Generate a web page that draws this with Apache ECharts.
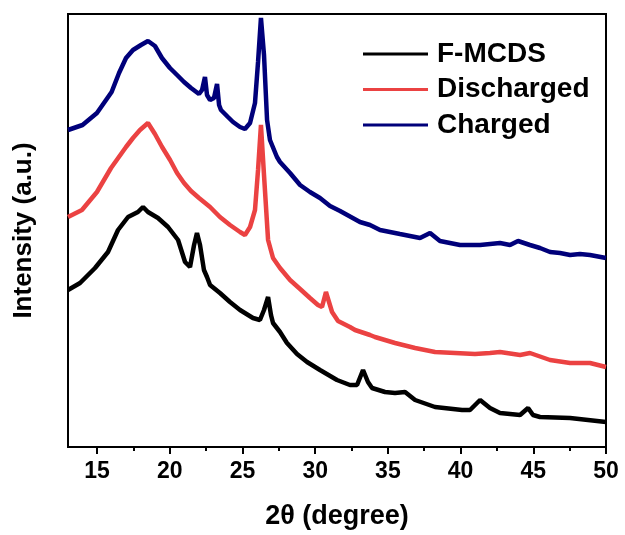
<!DOCTYPE html>
<html>
<head>
<meta charset="utf-8">
<script src="https://cdn.jsdelivr.net/npm/echarts@6/dist/echarts.min.js"></script>
<style>
html,body{margin:0;padding:0;background:#fff;}
#chart{width:625px;height:535px;}
</style>
</head>
<body>
<div id="chart"></div>
<script>
// ---- data (2θ in degrees, intensity in arbitrary units) ----
var seriesNames = ['F-MCDS', 'Discharged', 'Charged'];

var fmcdsX = [13.00,13.83,14.86,15.75,16.44,17.13,17.81,18.16,18.50,19.19,19.88,20.57,21.05,21.39,21.67,21.87,22.08,22.35,22.56,22.77,23.45,24.14,24.83,25.72,26.20,26.48,26.76,26.96,27.10,27.58,28.06,28.75,29.44,30.33,31.50,32.39,32.88,33.29,33.63,33.91,34.80,35.49,36.18,36.87,38.24,40.10,40.65,41.34,42.02,42.71,44.09,44.64,44.98,45.46,47.53,50.00];
var fmcdsY = [157,164,179,195,217,230,235,240,235,229,220,207,185,180,202,214,202,177,170,162,154,145,137,129,127,137,150,132,124,115,104,93,85,77,67,62,62,77,65,59,55,54,55,47,40,37,37,47,39,34,32,39,32,30,29,25];

var dischargedX = [13.00,13.96,14.99,15.96,16.99,17.47,17.95,18.50,18.98,19.47,20.02,20.50,20.98,21.46,22.01,22.77,23.45,24.14,24.83,25.17,25.52,25.86,26.07,26.27,26.48,26.76,27.10,27.58,28.27,28.96,29.64,30.19,30.47,30.74,31.16,31.57,32.39,32.74,33.77,34.11,35.49,36.87,38.24,39.62,40.99,42.02,42.71,44.09,44.77,46.15,47.53,48.90,50.00];
var dischargedY = [230,237,255,279,300,309,317,324,313,300,287,274,264,256,249,240,230,222,215,212,220,237,277,322,272,207,189,179,167,158,149,142,140,155,135,126,120,117,112,110,104,99,95,94,93,94,95,92,94,87,84,84,80];

var chargedX = [13.00,14.00,14.99,16.00,16.51,16.99,17.47,18.02,18.50,18.98,19.46,20.01,20.50,20.98,21.46,22.01,22.22,22.42,22.56,22.77,23.04,23.25,23.39,23.52,24.00,24.35,24.83,25.17,25.52,25.86,26.07,26.27,26.48,26.69,26.89,27.37,27.58,28.27,28.96,29.64,30.33,31.02,31.71,33.08,33.77,34.46,35.83,37.21,37.90,38.58,39.96,41.34,42.71,43.40,43.95,44.77,45.46,46.15,46.84,47.53,48.21,48.90,50.00];
var chargedY = [317,322,334,355,374,389,397,402,406,401,389,379,372,365,359,353,357,370,352,347,349,363,342,337,330,325,320,318,324,344,385,429,392,327,307,290,285,274,262,255,249,241,236,225,222,217,213,209,214,206,202,202,204,202,206,202,199,195,194,192,193,192,189];

var xMajorTicks = [15,20,25,30,35,40,45,50];
var xMinorTicks = [17.5,22.5,27.5,32.5,37.5,42.5,47.5];

function zip(xs, ys){ var out=[]; for(var i=0;i<xs.length;i++){ out.push([xs[i], ys[i]]); } return out; }

var FONT = '"Liberation Sans", Arial, sans-serif';
var colors = ['#000000', '#EB4242', '#00007A'];

var chart = echarts.init(document.getElementById('chart'), null, {renderer:'canvas'});
var option = {
  animation: false,
  backgroundColor: '#ffffff',
  grid: { left: 68, right: 19, top: 14, bottom: 88, show: true, borderColor: '#000', borderWidth: 2, backgroundColor: 'transparent' },
  legend: {
    orient: 'vertical', left: 363, top: 40, padding: 0,
    icon: 'rect', itemWidth: 65, itemHeight: 3, itemGap: 7.5,
    data: seriesNames,
    textStyle: { fontFamily: FONT, fontSize: 28, fontWeight: 'bold', color: '#000', lineHeight: 28, padding: [0,0,0,4] }
  },
  xAxis: [{
    type: 'value', min: 13, max: 50,
    name: '2θ (degree)', nameLocation: 'middle', nameGap: 56,
    nameTextStyle: { fontFamily: FONT, fontSize: 27, fontWeight: 'bold', color: '#000' },
    axisLine: { show: true, onZero: false, lineStyle: { color: '#000', width: 2 } },
    axisTick: { show: true, customValues: xMajorTicks, length: 7, inside: false, lineStyle: { color: '#000', width: 2 } },
    axisLabel: { customValues: xMajorTicks, margin: 13, fontFamily: FONT, fontSize: 23, fontWeight: 'bold', color: '#000' },
    splitLine: { show: false }
  }, {
    type: 'value', min: 13, max: 50, position: 'bottom',
    axisLine: { show: false },
    axisTick: { show: true, customValues: xMinorTicks, length: 4, inside: false, lineStyle: { color: '#000', width: 2 } },
    axisLabel: { show: false },
    splitLine: { show: false }
  }],
  yAxis: {
    type: 'value', min: 0, max: 433,
    name: 'Intensity (a.u.)', nameLocation: 'middle', nameGap: 31,
    nameTextStyle: { fontFamily: FONT, fontSize: 26, fontWeight: 'bold', color: '#000' },
    axisLine: { show: true, lineStyle: { color: '#000', width: 2 } },
    axisTick: { show: false },
    axisLabel: { show: false },
    splitLine: { show: false }
  },
  series: [
    { name: seriesNames[0], type: 'line', data: zip(fmcdsX, fmcdsY), symbol: 'none', showSymbol: false, color: colors[0], lineStyle: { width: 4.5, color: colors[0] } },
    { name: seriesNames[1], type: 'line', data: zip(dischargedX, dischargedY), symbol: 'none', showSymbol: false, color: colors[1], lineStyle: { width: 4.5, color: colors[1] } },
    { name: seriesNames[2], type: 'line', data: zip(chargedX, chargedY), symbol: 'none', showSymbol: false, color: colors[2], lineStyle: { width: 4.5, color: colors[2] } }
  ]
};
chart.setOption(option);
</script>
</body>
</html>
